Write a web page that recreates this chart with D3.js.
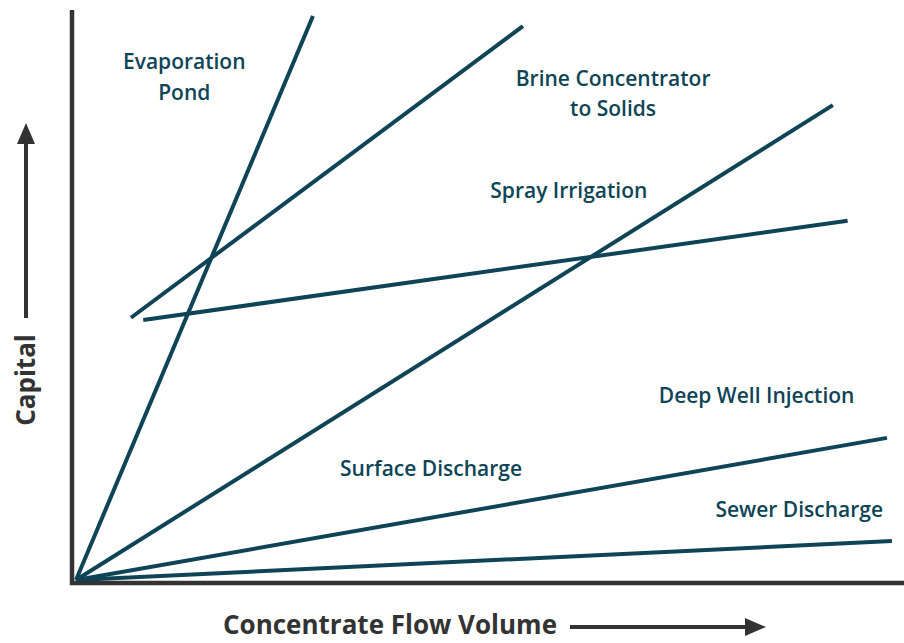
<!DOCTYPE html>
<html lang="en">
<head>
    <meta charset="UTF-8">
    <title>Capital vs Concentrate Flow Volume</title>
    <script src="https://d3js.org/d3.v7.min.js"></script>
    <style>
        body {
            margin: 0;
            padding: 0;
            background-color: #fff;
        }

        .label {
            font-family: 'Open Sans', 'Noto Sans', sans-serif;
            font-size: 21px;
            font-weight: 600;
            fill: #0e4456;
        }

        .axis-title {
            font-family: 'Open Sans', 'Noto Sans', sans-serif;
            font-size: 26px;
            font-weight: 700;
            fill: #333;
        }
    </style>
</head>
<body>
    <div id="chart"></div>

    <script>
        // option lines, start/end in arbitrary units (0-100)
        const options = ["Evaporation Pond", "Brine Concentrator to Solids", "Spray Irrigation",
            "Surface Discharge", "Deep Well Injection", "Sewer Discharge"];
        const startX = [0, 6.7, 8.2, 0, 0, 0];
        const startY = [0, 46.5, 46.1, 0, 0, 0];
        const endX = [28.9, 54.5, 94.1, 92.3, 98.9, 99.5];
        const endY = [100, 98.2, 63.7, 84.2, 25.2, 6.9];

        // label text lines and their anchor in the same units
        const labelLines = [["Evaporation", "Pond"], ["Brine Concentrator", "to Solids"], ["Spray Irrigation"],
            ["Surface Discharge"], ["Deep Well Injection"], ["Sewer Discharge"]];
        const labelX = [13.2, 65.5, 60.1, 43.3, 83.0, 88.2];
        const labelY = [90.6, 87.6, 67.7, 18.4, 31.3, 11.1];

        const width = 904, height = 643;
        const color = "#0e4456";

        const svg = d3.select("#chart").append("svg")
            .attr("width", width)
            .attr("height", height);

        const x = d3.scaleLinear().domain([0, 100]).range([76, 896]);
        const y = d3.scaleLinear().domain([0, 100]).range([580, 16]);

        // lines
        svg.selectAll(".opt")
            .data(options)
            .enter()
            .append("line")
            .attr("class", "opt")
            .attr("x1", (d, i) => x(startX[i]))
            .attr("y1", (d, i) => y(startY[i]))
            .attr("x2", (d, i) => x(endX[i]))
            .attr("y2", (d, i) => y(endY[i]))
            .attr("stroke", color)
            .attr("stroke-width", 4);

        // axes (plain lines, no ticks)
        svg.append("path")
            .attr("d", "M72,10 L72,583 L904,583")
            .attr("fill", "none")
            .attr("stroke", "#333")
            .attr("stroke-width", 4.5);

        // labels
        const labels = svg.selectAll(".label")
            .data(labelLines)
            .enter()
            .append("text")
            .attr("class", "label")
            .attr("text-anchor", "middle")
            .attr("x", (d, i) => x(labelX[i]))
            .attr("y", (d, i) => y(labelY[i]));

        labels.selectAll("tspan")
            .data(d => d)
            .enter()
            .append("tspan")
            .attr("x", function () { return d3.select(this.parentNode).attr("x"); })
            .attr("dy", (d, j) => j === 0 ? 0 : 30.5)
            .text(d => d);

        // axis titles with arrows
        svg.append("text")
            .attr("class", "axis-title")
            .attr("transform", "translate(35,380) rotate(-90)")
            .attr("text-anchor", "middle")
            .text("Capital");

        svg.append("line")
            .attr("x1", 26).attr("y1", 318)
            .attr("x2", 26).attr("y2", 140)
            .attr("stroke", "#333").attr("stroke-width", 4);
        svg.append("path")
            .attr("d", "M26,123 L35,144 L17,144 Z")
            .attr("fill", "#333");

        svg.append("text")
            .attr("class", "axis-title")
            .attr("x", 390)
            .attr("y", 634)
            .attr("text-anchor", "middle")
            .text("Concentrate Flow Volume");

        svg.append("line")
            .attr("x1", 570).attr("y1", 627)
            .attr("x2", 748).attr("y2", 627)
            .attr("stroke", "#333").attr("stroke-width", 4);
        svg.append("path")
            .attr("d", "M766,627 L745,618 L745,636 Z")
            .attr("fill", "#333");
    </script>
</body>
</html>
